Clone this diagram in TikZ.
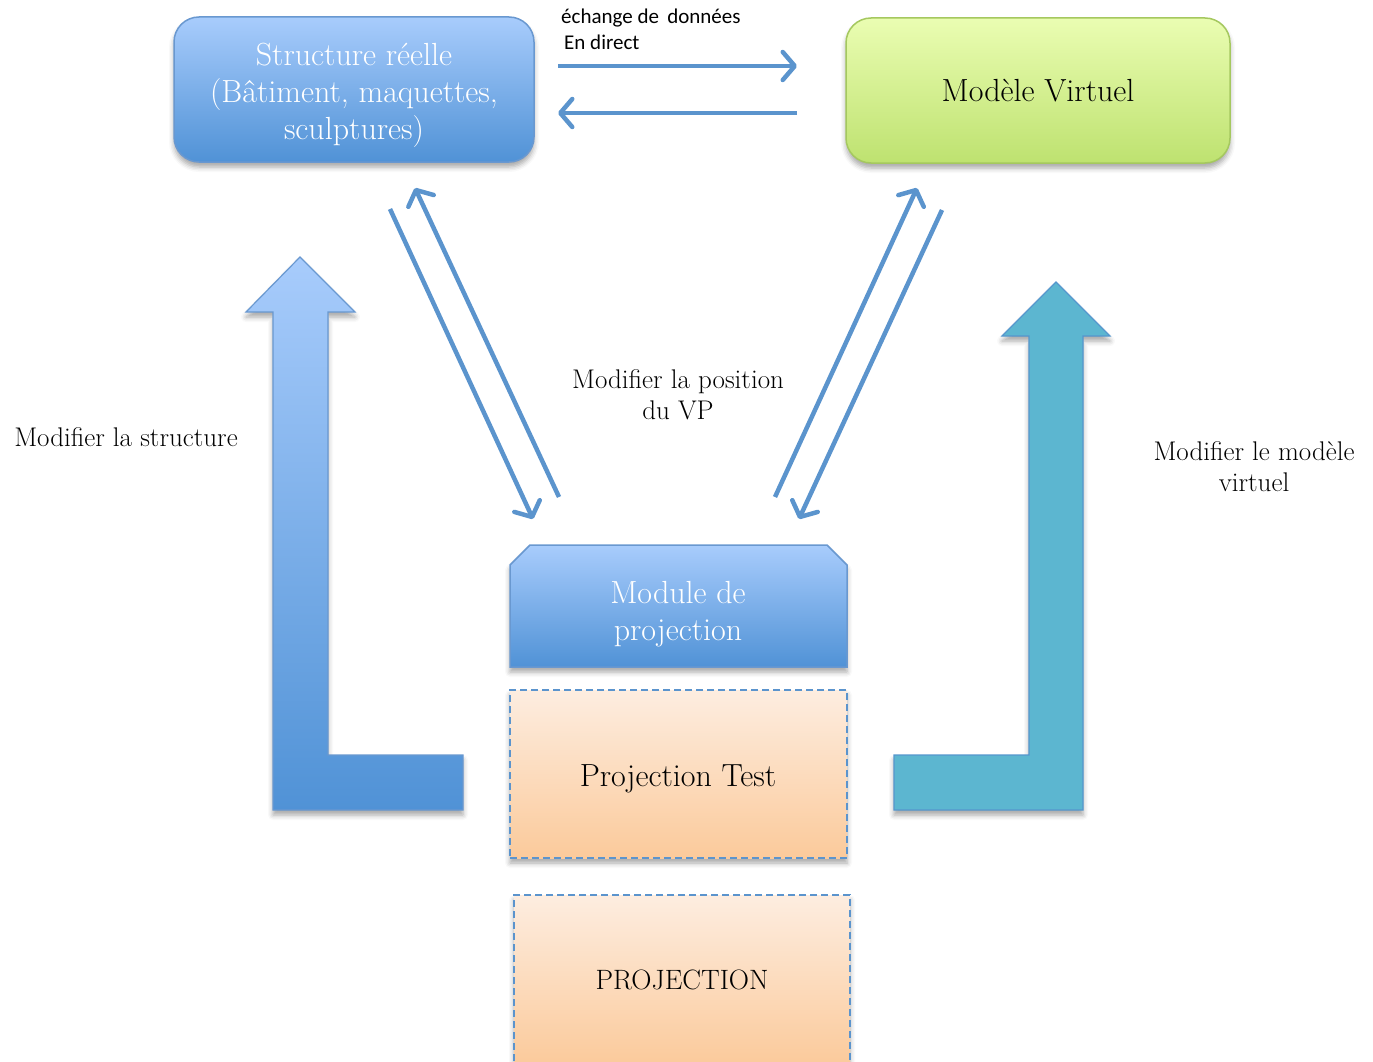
\documentclass[tikz,border=0pt]{standalone}
\usepackage{fontspec}
\newfontfamily\calfont{Carlito}
\usetikzlibrary{arrows.meta,shadows.blur}

\definecolor{arrowblue}{RGB}{91,148,205}
\definecolor{bluetop}{RGB}{168,204,252}
\definecolor{bluebot}{RGB}{80,146,214}
\definecolor{blueedge}{RGB}{105,152,208}
\definecolor{greentop}{RGB}{234,253,178}
\definecolor{greenbot}{RGB}{190,226,112}
\definecolor{greenedge}{RGB}{165,200,95}
\definecolor{peachtop}{RGB}{253,237,224}
\definecolor{peachbot}{RGB}{251,202,155}
\definecolor{tealfill}{RGB}{92,182,208}
\definecolor{tealedge}{RGB}{85,150,205}

\begin{document}
\begin{tikzpicture}[x=1pt,y=-1pt,
  shad/.style={blur shadow={shadow xshift=0pt,shadow yshift=-5pt,shadow blur radius=5pt,shadow opacity=35}},
  bluebox/.style={draw=blueedge,line width=1.5pt,top color=bluetop,bottom color=bluebot,shad},
  greenbox/.style={draw=greenedge,line width=1.5pt,top color=greentop,bottom color=greenbot,shad,
     align=center,font=\fontsize{32}{37}\selectfont},
  peachbox/.style={draw=arrowblue,line width=2pt,dash pattern=on 7pt off 4pt,top color=peachtop,bottom color=peachbot,shad},
  whitetxt/.style={text=white,align=center,font=\fontsize{32}{37}\selectfont},
  blacktxt/.style={align=center,font=\fontsize{32}{37}\selectfont},
  lbl/.style={align=center,font=\fontsize{27}{31}\selectfont},
  conn/.style={draw=arrowblue,line width=4.5pt,-{Straight Barb[length=12pt,width=28pt,round]}},
]
\useasboundingbox (0,0) rectangle (1373,1062);

% big L arrows
\path[draw=blueedge,line width=1.2pt,top color=bluetop,bottom color=bluebot,shad]
  (300,257) -- (355,312) -- (328,312) -- (328,755) -- (463,755) -- (463,810)
  -- (273,810) -- (273,312) -- (246,312) -- cycle;
\path[draw=tealedge,line width=1.2pt,fill=tealfill,shad]
  (1056,282) -- (1110,336) -- (1083,336) -- (1083,810) -- (894,810) -- (894,755)
  -- (1029,755) -- (1029,336) -- (1002,336) -- cycle;

% boxes
\node[bluebox,rounded corners=25pt,minimum width=360pt,minimum height=145pt] (struct) at (354,89.5) {};
\node[whitetxt] (structtxt) at (354,95.5) {Structure réelle\\(Bâtiment, maquettes,\\sculptures)};
\node[greenbox,rounded corners=25pt,minimum width=384pt,minimum height=145pt] (modele) at (1038,90.5)
  {Modèle Virtuel};

\path[bluebox]
  (530,545) -- (827,545) -- (847,565) -- (847,667) -- (510,667) -- (510,565) -- cycle;
\node[whitetxt] (module) at (678,614) {Module de\\projection};

\node[peachbox,minimum width=337pt,minimum height=168pt] (ptest) at (678.5,774) {};
\node[blacktxt] (ptesttxt) at (678,779) {Projection Test};
\node[peachbox,minimum width=336pt,minimum height=170pt] (proj) at (682,980) {};
\node[blacktxt,font=\fontsize{28}{33}\selectfont] (projtxt) at (682,980) {PROJECTION};

% labels
\node[align=left,anchor=north west,inner sep=0pt,font=\calfont\fontsize{21}{26}\selectfont] (echange) at (561,9)
  {échange de\, données\\\hspace{3pt}En direct};
\node[lbl] (lpos) at (678,395) {Modifier la position\\du VP};
\node[lbl] (lstruct) at (126,437) {Modifier la structure};
\node[lbl] (lmodele) at (1254,467) {Modifier le modèle\\virtuel};

% connector end points
\coordinate (h1s) at (558,66);  \coordinate (h1e) at (797,66);
\coordinate (h2s) at (797,113); \coordinate (h2e) at (558,113);
\coordinate (d1s) at (390,209); \coordinate (d1e) at (533,519);
\coordinate (d2s) at (559,497); \coordinate (d2e) at (415,188);
\coordinate (d3s) at (775,497); \coordinate (d3e) at (917,188);
\coordinate (d4s) at (942,210); \coordinate (d4e) at (799,519);

\draw[conn] (h1s) -- (h1e);
\draw[conn] (h2s) -- (h2e);
\draw[conn] (d1s) -- (d1e);
\draw[conn] (d2s) -- (d2e);
\draw[conn] (d3s) -- (d3e);
\draw[conn] (d4s) -- (d4e);
\end{tikzpicture}
\end{document}
